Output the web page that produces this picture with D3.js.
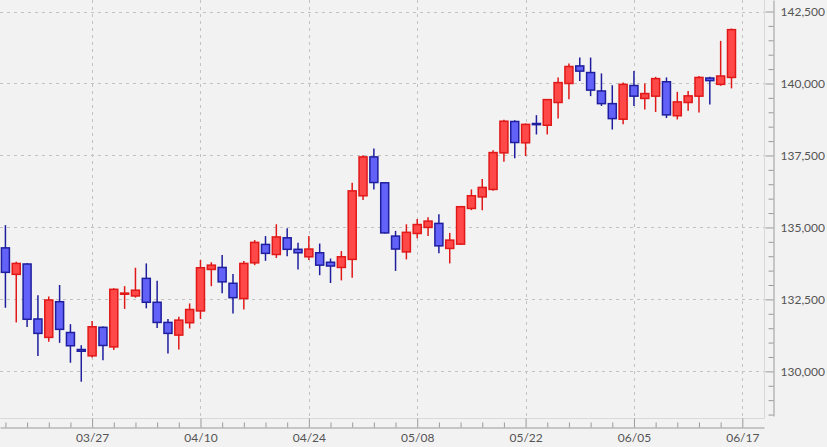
<!DOCTYPE html>
<html>
<head>
<meta charset="utf-8">
<script src="https://cdn.jsdelivr.net/npm/d3@7"></script>
<style>
  html, body { margin: 0; padding: 0; background: #f2f2f2; }
  svg { display: block; }
  text { font-family: Lato, "Open Sans", sans-serif; }
</style>
</head>
<body>
<svg id="chart" width="827" height="447"></svg>
<script>
// ---- data (one entry per trading session, index 0..67) ----
const openVals  = [134290,133370,133730,131820,131180,132420,131350,130760,130540,131530,
                   130850,132680,132620,133230,132400,131700,131260,131690,132100,133540,
                   133610,133060,132530,133770,134410,134060,134640,134240,133980,134120,
                   133790,133610,133890,136100,137450,136550,134700,134150,134790,135000,
                   135140,134270,134420,135660,136060,136320,137590,138680,137940,138610,
                   138550,139340,140000,140610,140380,139740,139300,138760,139930,139480,
                   139560,140060,138880,139340,139560,140190,139970,140210];
const highVals  = [135080,133810,133760,132640,132600,133000,131640,130910,131750,131560,
                   132890,132960,133600,133750,133150,131820,131900,132360,133870,133790,
                   134040,133380,133830,134560,134700,135110,134970,134470,134700,134440,
                   133920,134180,136550,137510,137740,136570,134880,135110,135290,135350,
                   135460,134810,135740,136320,136680,137680,138740,138720,138610,138900,
                   139450,140210,140690,140900,140900,140350,139940,140030,140430,140000,
                   140230,140210,139710,139740,140260,140230,141480,141910];
const lowVals   = [132210,131700,131540,130530,131030,130990,130300,129640,130480,130390,
                   130740,132170,132560,132190,131510,130620,130760,131490,131820,132960,
                   132710,132010,132150,133690,133840,133940,134000,133540,133870,133340,
                   133070,133160,133250,135950,136320,134790,133490,133890,134620,134700,
                   134100,133750,134390,135600,135600,136270,137280,137400,137480,138230,
                   138230,138780,139450,140090,139560,139220,138400,138580,139220,139100,
                   139010,138800,138750,139050,138990,139270,139920,139830];
const closeVals = [133440,133750,131810,131320,132480,131460,130890,130700,131550,130900,
                   132850,132720,132820,132400,131700,131320,131780,132150,133600,133690,
                   133110,132560,133750,134480,134100,134670,134240,134120,134250,133690,
                   133660,133980,136270,137450,136560,134810,134250,134830,135100,135220,
                   134360,134560,135720,136100,136390,137600,138690,137950,138580,138570,
                   139440,140030,140590,140430,139770,139300,138780,139970,139560,139650,
                   140170,138910,139360,139570,140210,140100,140260,141870];

const xTickIndex  = [8, 18, 28, 38, 48, 58, 68];
const xTickLabels = ["03/27", "04/10", "04/24", "05/08", "05/22", "06/05", "06/17"];
const yTickValues = [130000, 132500, 135000, 137500, 140000, 142500];

// ---- layout ----
const W = 827, H = 447;
const plotRight = 764, plotBottom = 418;
const xAxisY = 427.5, yAxisX = 773.5;

const svg = d3.select("#chart");
svg.append("rect").attr("width", W).attr("height", H).attr("fill", "#f2f2f2");

const candles = openVals.map((o, i) => ({ i, o, h: highVals[i], l: lowVals[i], c: closeVals[i] }));

const x = d3.scaleLinear().domain([-0.5, 70]).range([0, plotRight]);
const y = d3.scaleLinear().domain([128450, 142900]).range([416, 0]);

// plot border (right + bottom)
svg.append("path")
  .attr("d", `M${plotRight + 0.5},0 V${plotBottom + 0.5} H0`)
  .attr("fill", "none").attr("stroke", "#d9d9d9").attr("stroke-width", 1);

// grid
const grid = svg.append("g").attr("stroke", "#c2c2c2").attr("stroke-dasharray", "3,4").attr("stroke-width", 1);
grid.selectAll("line.h").data(yTickValues).join("line")
  .attr("x1", 0).attr("x2", plotRight)
  .attr("y1", d => Math.round(y(d)) + 0.5).attr("y2", d => Math.round(y(d)) + 0.5);
grid.selectAll("line.v").data(xTickIndex).join("line")
  .attr("y1", 0).attr("y2", plotBottom)
  .attr("x1", d => Math.round(x(d)) + 0.5).attr("x2", d => Math.round(x(d)) + 0.5);

// x axis
const minorX = d3.range(0, 69, 2).filter(i => !xTickIndex.includes(i));
const xMinor = d3.axisBottom(x).tickValues(minorX).tickSizeInner(-5).tickSizeOuter(0).tickFormat("");
const xMajor = d3.axisBottom(x).tickValues(xTickIndex).tickSizeInner(-9).tickSizeOuter(0).tickPadding(6)
  .tickFormat((d, k) => xTickLabels[k]);
const gxMinor = svg.append("g").attr("transform", `translate(0,${xAxisY})`).call(xMinor);
const gxMajor = svg.append("g").attr("transform", `translate(0,${xAxisY})`).call(xMajor);
gxMinor.select(".domain").remove();
[gxMinor, gxMajor].forEach(g => {
  g.selectAll("line").attr("stroke", "#9a9a9a");
  g.select(".domain").attr("stroke", "#9a9a9a");
});
gxMajor.selectAll("text").attr("fill", "#555").attr("font-size", 12).attr("font-family", "Lato, sans-serif");

// y axis
const fmt = d3.format(",");
const minorY = d3.range(128500, 142501, 500).filter(v => !yTickValues.includes(v));
const yMinor = d3.axisRight(y).tickValues(minorY).tickSizeInner(-5).tickSizeOuter(0).tickFormat("");
const yMajor = d3.axisRight(y).tickValues(yTickValues).tickSizeInner(-8).tickSizeOuter(0).tickPadding(7).tickFormat(fmt);
const gyMinor = svg.append("g").attr("transform", `translate(${yAxisX},0)`).call(yMinor);
const gyMajor = svg.append("g").attr("transform", `translate(${yAxisX},0)`).call(yMajor);
gyMinor.select(".domain").remove();
[gyMinor, gyMajor].forEach(g => {
  g.selectAll("line").attr("stroke", "#9a9a9a");
  g.select(".domain").attr("stroke", "#9a9a9a");
});
gyMajor.selectAll("text").attr("fill", "#555").attr("font-size", 12).attr("font-family", "Lato, sans-serif");

// candles
const colUp = { fill: "#ff4848", stroke: "#e01818", wick: "#e01818" };
const colDn = { fill: "#6262f8", stroke: "#1e1e9e", wick: "#1e1e9e" };
const bodyW = 8;
const gc = svg.append("g");
const cg = gc.selectAll("g").data(candles).join("g");
cg.append("line")
  .attr("x1", d => x(d.i)).attr("x2", d => x(d.i))
  .attr("y1", d => y(d.h)).attr("y2", d => y(d.l))
  .attr("stroke", d => (d.c >= d.o ? colUp : colDn).wick)
  .attr("stroke-width", 1.5);
cg.append("rect")
  .attr("x", d => x(d.i) - bodyW / 2)
  .attr("width", bodyW)
  .attr("y", d => y(Math.max(d.o, d.c)))
  .attr("height", d => Math.max(1, Math.abs(y(d.o) - y(d.c))))
  .attr("fill", d => (d.c >= d.o ? colUp : colDn).fill)
  .attr("stroke", d => (d.c >= d.o ? colUp : colDn).stroke)
  .attr("stroke-width", 1.5);
</script>
</body>
</html>
